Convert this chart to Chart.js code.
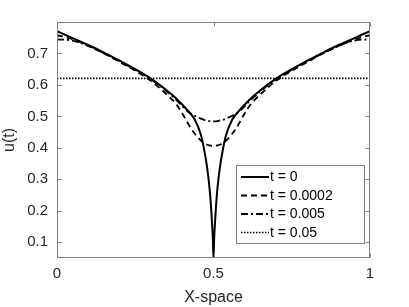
<!DOCTYPE html>
<html>
<head>
<meta charset="utf-8">
<script src="https://cdn.jsdelivr.net/npm/chart.js@4.4.0/dist/chart.umd.min.js"></script>
<style>
  html, body { margin: 0; padding: 0; background: #fff; }
  #wrap { width: 409px; height: 307px; position: relative; }
</style>
</head>
<body>
<div id="wrap"><canvas id="c"></canvas></div>
<script>
// x grid (X-space) and the four solution profiles
const xs = [0, 0.05, 0.1, 0.15, 0.2, 0.25, 0.3, 0.35, 0.38, 0.4, 0.42, 0.44, 0.46, 0.47, 0.48, 0.487, 0.492, 0.495, 0.498,
            0.5, 0.502, 0.505, 0.508, 0.513, 0.52, 0.53, 0.54, 0.56, 0.58, 0.6, 0.62, 0.65, 0.7, 0.75, 0.8, 0.85, 0.9, 0.95, 1];
const u0 = [0.771, 0.749, 0.727, 0.703, 0.677, 0.650, 0.620, 0.583, 0.558, 0.538, 0.516, 0.490, 0.440, 0.395, 0.335, 0.275, 0.215, 0.165, 0.110,
            0.050, 0.110, 0.165, 0.215, 0.275, 0.335, 0.395, 0.440, 0.490, 0.516, 0.538, 0.558, 0.583, 0.620, 0.650, 0.677, 0.703, 0.727, 0.749, 0.771];
const u1 = [0.758, 0.745, 0.724, 0.700, 0.673, 0.645, 0.613, 0.570, 0.540, 0.510, 0.475, 0.445, 0.423, 0.415, 0.410, 0.408, 0.407, 0.406, 0.406,
            0.406, 0.406, 0.406, 0.407, 0.408, 0.410, 0.415, 0.423, 0.445, 0.475, 0.510, 0.540, 0.570, 0.613, 0.645, 0.673, 0.700, 0.724, 0.745, 0.758];
const u2 = [0.745, 0.741, 0.724, 0.701, 0.675, 0.648, 0.618, 0.580, 0.553, 0.533, 0.514, 0.502, 0.493, 0.489, 0.487, 0.485, 0.484, 0.484, 0.484,
            0.484, 0.484, 0.484, 0.484, 0.485, 0.487, 0.489, 0.493, 0.502, 0.514, 0.533, 0.553, 0.580, 0.618, 0.648, 0.675, 0.701, 0.724, 0.741, 0.745];
const u3 = [0.621, 0.621, 0.621, 0.621, 0.621, 0.621, 0.621, 0.621, 0.621, 0.621, 0.621, 0.621, 0.621, 0.621, 0.621, 0.621, 0.621, 0.621, 0.621,
            0.621, 0.621, 0.621, 0.621, 0.621, 0.621, 0.621, 0.621, 0.621, 0.621, 0.621, 0.621, 0.621, 0.621, 0.621, 0.621, 0.621, 0.621, 0.621, 0.621];
const labels = ['t = 0', 't = 0.0002', 't = 0.005', 't = 0.05'];
const xTicks = [0, 0.5, 1];
const yTicks = [0.1, 0.2, 0.3, 0.4, 0.5, 0.6, 0.7];

const FONT = 'Liberation Sans, Arial, Helvetica, sans-serif';
const TEXT = '#262626';
const AXIS = '#808080';

const pts = ys => xs.map((x, i) => ({ x: x, y: ys[i] }));

const styles = [
    { borderDash: [], borderWidth: 2 },
    { borderDash: [6, 4], borderWidth: 1.8 },
    { borderDash: [7, 3, 2, 3], borderWidth: 1.8 },
    { borderDash: [1.5, 1.5], borderWidth: 1.6 },
];

// box round the plot, inward ticks on all four sides, and the legend box
const boxPlugin = {
    id: 'box',
    afterDatasetsDraw(chart) {
        const { ctx, chartArea: a, scales } = chart;
        const L = Math.round(a.left) + 0.5, R = Math.round(a.right) - 0.5;
        const T = Math.round(a.top) + 0.5, B = Math.round(a.bottom) - 0.5;
        ctx.save();
        ctx.strokeStyle = AXIS;
        ctx.lineWidth = 1;
        ctx.setLineDash([]);
        ctx.strokeRect(L, T, R - L, B - T);
        ctx.beginPath();
        yTicks.forEach(v => {
            const y = Math.round(scales.y.getPixelForValue(v)) + 0.5;
            ctx.moveTo(L, y); ctx.lineTo(L + 4, y);
            ctx.moveTo(R, y); ctx.lineTo(R - 4, y);
        });
        xTicks.forEach(v => {
            const x = Math.round(scales.x.getPixelForValue(v)) + 0.5;
            ctx.moveTo(x, B); ctx.lineTo(x, B - 4);
            ctx.moveTo(x, T); ctx.lineTo(x, T + 4);
        });
        ctx.stroke();

        // legend
        const lx = 236.5, ly = 165.5, lw = 128, lh = 78;
        ctx.fillStyle = '#fff';
        ctx.fillRect(lx, ly, lw, lh);
        ctx.strokeStyle = AXIS;
        ctx.strokeRect(lx, ly, lw, lh);
        ctx.font = '14px ' + FONT;
        ctx.textBaseline = 'middle';
        chart.data.datasets.forEach((ds, i) => {
            const y = 177 + i * 18.5;
            ctx.strokeStyle = '#000';
            ctx.lineWidth = ds.borderWidth;
            ctx.setLineDash(ds.borderDash);
            ctx.beginPath();
            ctx.moveTo(241, y); ctx.lineTo(269, y);
            ctx.stroke();
            ctx.fillStyle = '#000';
            ctx.fillText(ds.label, 270, y + 0.5);
        });
        ctx.restore();
    },
};

new Chart(document.getElementById('c'), {
    type: 'line',
    data: {
        datasets: [u0, u1, u2, u3].map((ys, i) => ({
            label: labels[i],
            data: pts(ys),
            borderColor: '#000',
            borderWidth: styles[i].borderWidth,
            borderDash: styles[i].borderDash,
            pointRadius: 0,
            fill: false,
            cubicInterpolationMode: 'monotone',
        })),
    },
    options: {
        responsive: true,
        maintainAspectRatio: false,
        animation: false,
        layout: { padding: { top: 22, right: 39, left: 0, bottom: 0 } },
        plugins: {
            legend: { display: false },
            tooltip: { enabled: false },
        },
        scales: {
            x: {
                type: 'linear',
                min: 0,
                max: 1,
                afterBuildTicks: s => { s.ticks = xTicks.map(v => ({ value: v })); },
                afterFit: s => { s.height = 49; },
                grid: { display: false, drawTicks: false },
                border: { display: false },
                ticks: {
                    color: TEXT,
                    font: { family: FONT, size: 15 },
                    padding: 7,
                    maxRotation: 0,
                    callback: v => String(v),
                },
                title: {
                    display: true,
                    text: 'X-space',
                    color: TEXT,
                    font: { family: FONT, size: 16 },
                    padding: { top: 0, bottom: 0 },
                },
            },
            y: {
                min: 0.05,
                max: 0.8,
                afterBuildTicks: s => { s.ticks = yTicks.map(v => ({ value: v })); },
                afterFit: s => { s.width = 57; },
                grid: { display: false, drawTicks: false },
                border: { display: false },
                ticks: {
                    color: TEXT,
                    font: { family: FONT, size: 15 },
                    padding: 9,
                    callback: v => String(v),
                },
                title: {
                    display: true,
                    text: 'u(t)',
                    color: TEXT,
                    font: { family: FONT, size: 16 },
                    padding: { top: 0, bottom: 0 },
                },
            },
        },
    },
    plugins: [boxPlugin],
});
</script>
</body>
</html>
